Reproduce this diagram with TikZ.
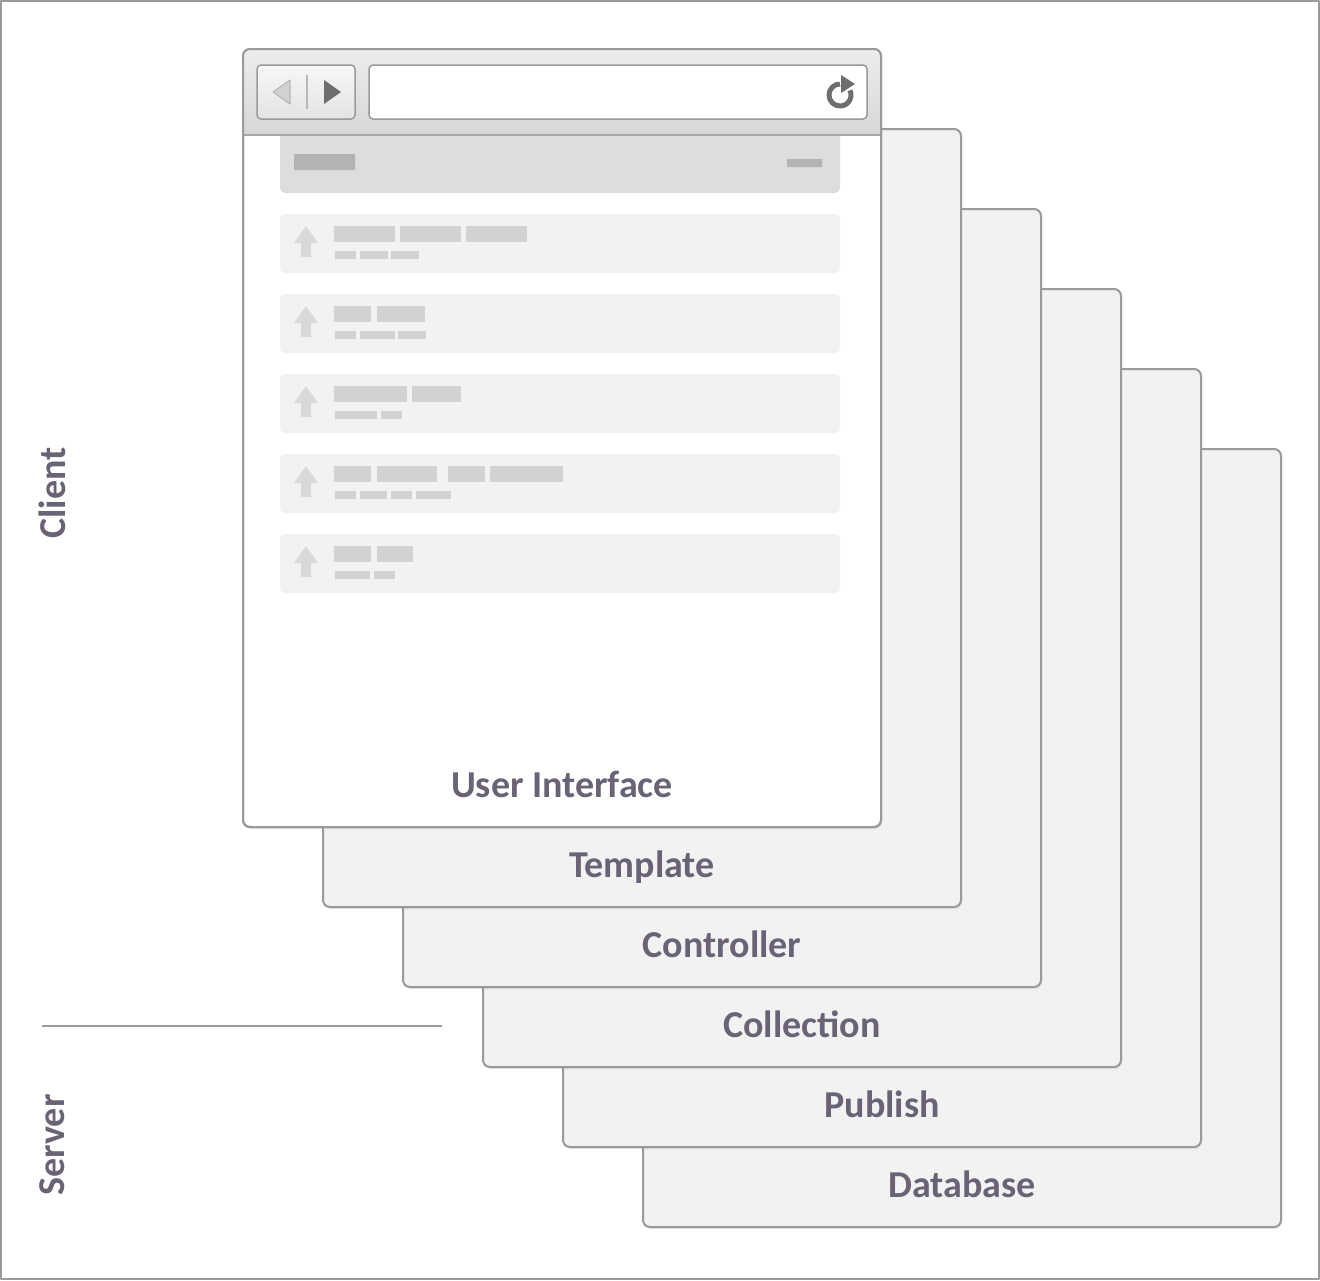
\documentclass[tikz,border=0pt]{standalone}
\usepackage{fontspec}
\setmainfont{Carlito}
\usetikzlibrary{shadows}
\definecolor{labelgray}{HTML}{6A6375}
\definecolor{edgegray}{HTML}{9A9A9A}
\definecolor{cardgray}{HTML}{F2F2F2}
\definecolor{headgray}{HTML}{DDDDDD}
\definecolor{bargray}{HTML}{D2D2D2}
\definecolor{darkbar}{HTML}{B3B3B3}
\definecolor{icongray}{HTML}{6E6E6E}
\tikzset{
  layer/.style={draw=edgegray, line width=2pt, fill=cardgray, rounded corners=7pt,
    minimum width=638pt, minimum height=778pt, outer sep=0pt, anchor=north west,
    drop shadow={opacity=0.15, shadow xshift=1pt, shadow yshift=-2pt}},
  layertext/.style={font=\bfseries\fontsize{38}{38}\selectfont, text=labelgray, anchor=base},
  sidetext/.style={font=\bfseries\fontsize{38}{38}\selectfont, text=labelgray, rotate=90},
  btn/.style={draw=edgegray, line width=1.5pt, rounded corners=4pt},
  rowbox/.style={fill=cardgray, rounded corners=5pt},
}
\begin{document}
\begin{tikzpicture}[x=1pt, y=-1pt, line join=round]
\useasboundingbox (0,0) rectangle (1320,1280);
\draw[edgegray, line width=2pt] (1,1) rectangle (1319,1279);
% Schichten von hinten nach vorne
\foreach \i/\name/\txt in {5/db/Database, 4/pub/Publish, 3/coll/Collection,
  2/ctrl/Controller, 1/tmpl/Template}{
  \node[layer] (\name) at ({243+80*\i},{49+80*\i}) {};
  \node[layertext] (\name-lbl) at ([yshift=30pt]\name.south) {\txt};
}
% Browser
\node[layer, fill=white] (ui) at (243,49) {};
\fill[headgray, rounded corners=5pt] (280,120) rectangle (840,193);
\begin{scope}
  \clip[rounded corners=7pt] (ui.north west) rectangle (ui.south east);
  \shade[top color=black!7, bottom color=black!16] (243,49) rectangle (881,135);
\end{scope}
\draw[black!35, line width=2.5pt] (ui.west |- 0,135) -- (ui.east |- 0,135);
\draw[edgegray, line width=2pt, rounded corners=7pt] (ui.north west) rectangle (ui.south east);
% Knoepfe und Adresszeile
\shade[btn, top color=black!3, bottom color=black!11] (257,65) rectangle (355,119);
\filldraw[fill=black!18, draw=black!30, line width=1pt] (273,92) -- (290,80) -- (290,104) -- cycle;
\draw[black!28, line width=1.5pt] (307,75) -- (307,109);
\fill[icongray] (324,80) -- (341,92) -- (324,104) -- cycle;
\filldraw[btn, fill=white] (369,65) rectangle (867,119);
\draw[icongray, line width=5pt] (840,95) ++(270:11) arc[start angle=270, end angle=-25, radius=11];
\fill[icongray] (841,75) -- (855,84) -- (841,93) -- cycle;
% Kopfzeile
\fill[darkbar] (294,154) rectangle (355,170) (787,159) rectangle (822,167);
% Listeneintraege
\foreach \k/\tops/\bots in {
  0/{334/395,400/461,466/527}/{335/356,360/388,391/419},
  1/{334/371,377/425}/{335/356,360/395,398/426},
  2/{334/407,412/461}/{335/377,381/402},
  3/{334/371,377/437,448/485,490/563}/{335/356,360/387,391/412,416/451},
  4/{334/371,377/413}/{335/370,374/395}}{
  \fill[rowbox] (280,{214+80*\k}) rectangle (840,{273+80*\k});
  \fill[bargray!85] (306,{226+80*\k}) -- (318,{243+80*\k}) -- (311,{243+80*\k})
    -- (311,{257+80*\k}) -- (301,{257+80*\k}) -- (301,{243+80*\k}) -- (294,{243+80*\k}) -- cycle;
  \foreach \a/\b in \tops
    \fill[bargray] (\a,{226+80*\k}) rectangle (\b,{242+80*\k});
  \foreach \a/\b in \bots
    \fill[bargray] (\a,{251+80*\k}) rectangle (\b,{259+80*\k});
}
\node[layertext] (ui-lbl) at ([yshift=30pt]ui.south) {User Interface};
% Seitenbeschriftung
\node[sidetext] (client) at (52,493) {Client};
\node[sidetext] (server) at (52,1145) {Server};
\draw[edgegray, line width=2pt] (42,1026) -- (442,1026);
\end{tikzpicture}
\end{document}
